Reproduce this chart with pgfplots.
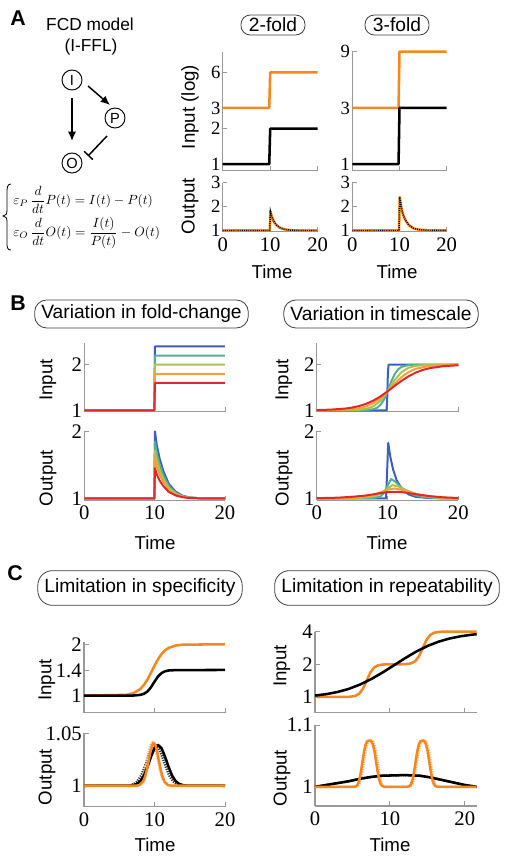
\documentclass[border=0pt]{standalone}
\usepackage{amsmath}
\usepackage{fontspec}
\setmainfont{Liberation Sans}
\newfontfamily\tnr{Liberation Serif}
\usepackage{pgfplots}
\pgfplotsset{compat=1.18}
\usetikzlibrary{arrows.meta}

\definecolor{myor}{RGB}{245,135,30}
\definecolor{myorl}{RGB}{250,180,115}
\definecolor{cb}{RGB}{60,95,190}
\definecolor{ct}{RGB}{80,175,150}
\definecolor{cy}{RGB}{170,195,80}
\definecolor{co}{RGB}{240,160,60}
\definecolor{cr}{RGB}{225,40,40}

\pgfplotsset{
  fc/.style={scale only axis, anchor=south west, xmin=0, xmax=20, clip=false,
    axis x line*=bottom, axis y line*=left,
    axis line style={-,draw=black!40,line width=0.8pt},
    tick style={draw=black!40,line width=0.7pt}, major tick length=3.5pt,
    tick align=inside, xtick={0,10,20}, no markers,
    ticklabel style={font=\tnr\fontsize{15.5}{15.5}\selectfont},
    yticklabel style={inner xsep=1.5pt,inner ysep=0pt},
    xticklabel style={inner ysep=2pt,yshift=-2pt}},
  sm/.style={yticklabel style={font=\tnr\fontsize{14}{14}\selectfont}},
  pos/.style 2 args={at={({#1*0.75pt},{(857-#2)*0.75pt})}},
  noxl/.style={xticklabels={}},
  lo/.style={myor,line width=1.9pt,line join=round},
  lk/.style={black,line width=1.9pt,line join=round},
  ldk/.style={black,line width=1.1pt,dash pattern=on 0.7pt off 0.9pt},
  lb/.style={line width=1.5pt,line join=round},
  dol/.style={myorl,line width=1.8pt,dash pattern=on 0.9pt off 0.9pt},
  dkl/.style={black!80,line width=1.8pt,dash pattern=on 0.9pt off 0.9pt},
}

\begin{document}
\begin{tikzpicture}
\useasboundingbox (0,0) rectangle (378.75pt,642.75pt);

% ---------- A ----------
\begin{axis}[fc, sm, pos={222.7}{170.7}, width=71.25pt, height=89.25pt, noxl,
  ymode=log, ymin=0.88, ymax=9, ytick={1,2,3,6}, yticklabels={1,2,3,6}]
\addplot[lo] coordinates {(0,3) (9.8,3) (10,6) (20,6)};
\addplot[lk] coordinates {(0,1) (9.8,1) (10,2) (20,2)};
\end{axis}
\begin{axis}[fc, sm, pos={222.7}{231.7}, width=71.25pt, height=36.75pt,
  ymin=0.95, ymax=3, ytick={1,2,3}, yticklabels={1,2,3}, xticklabels={0,10,20}]
\addplot[lo] coordinates {(0,1) (9.9,1) (10.05,1.8) (10.3,1.6) (10.7,1.4) (11.2,1.25) (12,1.12) (13,1.05) (14,1.02) (16,1.0) (20,1)};
\addplot[ldk] coordinates {(0,1) (9.9,1) (10.05,1.8) (10.3,1.6) (10.7,1.4) (11.2,1.25) (12,1.12) (13,1.05) (14,1.02) (16,1.0) (20,1)};
\end{axis}
\begin{axis}[fc, sm, pos={352.3}{170.7}, width=70.8pt, height=89.25pt, noxl,
  ymode=log, ymin=0.88, ymax=9, ytick={1,3,9}, yticklabels={1,3,9}]
\addplot[lo] coordinates {(0,3) (9.8,3) (10,9) (20,9)};
\addplot[lk] coordinates {(0,1) (9.8,1) (10,3) (20,3)};
\end{axis}
\begin{axis}[fc, sm, pos={352.3}{231.7}, width=70.8pt, height=36.75pt,
  ymin=0.95, ymax=3, ytick={1,2,3}, yticklabels={1,2,3}, xticklabels={0,10,20}]
\addplot[lo] coordinates {(0,1) (9.9,1) (10.05,2.4) (10.3,2.05) (10.7,1.7) (11.2,1.45) (12,1.22) (13,1.09) (14,1.04) (16,1.01) (20,1)};
\addplot[ldk] coordinates {(0,1) (9.9,1) (10.05,2.4) (10.3,2.05) (10.7,1.7) (11.2,1.45) (12,1.22) (13,1.09) (14,1.04) (16,1.01) (20,1)};
\end{axis}

% ---------- B ----------
\begin{axis}[fc, pos={84.3}{411.7}, width=105.5pt, height=51.3pt, noxl,
  ymin=0.97, ymax=2.47, ytick={1,2}, yticklabels={1,2}]
\addplot[lb,cb] coordinates {(0,1) (9.95,1) (10.05,2.4) (20,2.4)};
\addplot[lb,ct] coordinates {(0,1) (9.95,1) (10.05,2.2) (20,2.2)};
\addplot[lb,cy] coordinates {(0,1) (9.95,1) (10.05,2.0) (20,2.0)};
\addplot[lb,co] coordinates {(0,1) (9.95,1) (10.05,1.8) (20,1.8)};
\addplot[lb,cr] coordinates {(0,1) (9.95,1) (10.05,1.6) (20,1.6)};
\end{axis}
\begin{axis}[fc, pos={84.3}{500.5}, width=105.5pt, height=51.75pt,
  ymin=0.97, ymax=2, ytick={1,2}, yticklabels={1,2}, xticklabels={0,10,20}]
\addplot[lb,cb] coordinates {(0,1) (9.95,1) (10.05,2.0) (10.3,1.8) (10.7,1.6) (11.2,1.42) (12,1.22) (13,1.1) (14,1.04) (15,1.015) (17,1) (20,1)};
\addplot[lb,ct] coordinates {(0,1) (9.95,1) (10.05,1.85) (10.3,1.68) (10.7,1.51) (11.2,1.357) (12,1.187) (13,1.085) (14,1.034) (15,1.013) (17,1) (20,1)};
\addplot[lb,cy] coordinates {(0,1) (9.95,1) (10.05,1.72) (10.3,1.576) (10.7,1.432) (11.2,1.302) (12,1.158) (13,1.072) (14,1.029) (15,1.011) (17,1) (20,1)};
\addplot[lb,co] coordinates {(0,1) (9.95,1) (10.05,1.6) (10.3,1.48) (10.7,1.36) (11.2,1.252) (12,1.132) (13,1.06) (14,1.024) (15,1.009) (17,1) (20,1)};
\addplot[lb,cr] coordinates {(0,1) (9.95,1) (10.05,1.45) (10.3,1.36) (10.7,1.27) (11.2,1.189) (12,1.099) (13,1.045) (14,1.018) (15,1.007) (17,1) (20,1)};
\end{axis}
\begin{axis}[fc, pos={316.7}{411.7}, width=106.2pt, height=51.3pt, noxl,
  ymin=0.97, ymax=2.47, ytick={1,2}, yticklabels={1,2}]
\addplot[lb,cb] coordinates {(0,1) (9.85,1) (9.95,1.2) (10.05,1.8) (10.15,2) (20,2)};
\addplot[lb,ct] coordinates {(0,1) (7,1.0047) (8,1.0241) (8.5,1.054) (9,1.1165) (9.5,1.2337) (10,1.414) (10.5,1.621) (11,1.791) (11.5,1.898) (12,1.953) (13,1.995) (20,2)};
\addplot[lb,cy] coordinates {(0,1) (5,1.0047) (6,1.0125) (7,1.0334) (8,1.086) (9,1.205) (10,1.414) (11,1.66) (12,1.841) (13,1.935) (14,1.975) (15,1.9907) (20,2)};
\addplot[lb,co] coordinates {(0,1.0009) (4,1.0125) (6,1.046) (7,1.086) (8,1.156) (9,1.265) (10,1.414) (11,1.581) (12,1.731) (13,1.841) (14,1.912) (16,1.975) (20,1.999)};
\addplot[lb,cr] coordinates {(0,1.0059) (2,1.0152) (4,1.0383) (5,1.0604) (6,1.094) (7,1.1435) (8,1.213) (9,1.304) (10,1.4142) (11,1.534) (12,1.649) (13,1.749) (14,1.828) (15,1.886) (16,1.926) (18,1.97) (20,1.988)};
\end{axis}
\begin{axis}[fc, pos={316.7}{500.5}, width=106.2pt, height=51.75pt,
  ymin=0.97, ymax=2, ytick={1,2}, yticklabels={1,2}, xticklabels={0,10,20}]
\addplot[lb,cb] coordinates {(0,1) (9.8,1) (10.1,1.83) (10.4,1.62) (10.8,1.43) (11.3,1.27) (12,1.15) (13,1.06) (14,1.025) (16,1.005) (20,1)};
\addplot[lb,ct] coordinates {(0,1) (8,1.005) (9,1.03) (9.5,1.08) (10,1.19) (10.5,1.29) (11,1.26) (11.5,1.21) (12,1.16) (13,1.085) (14,1.045) (15,1.022) (17,1.005) (20,1)};
\addplot[lb,cy] coordinates {(0,1) (6,1.006) (8,1.03) (9,1.07) (10,1.15) (10.7,1.2) (11.5,1.18) (12.5,1.13) (14,1.07) (15,1.04) (17,1.012) (20,1.002)};
\addplot[lb,co] coordinates {(0,1.002) (5,1.01) (7,1.03) (8,1.05) (9,1.09) (10,1.13) (11,1.15) (12,1.13) (13,1.1) (14,1.07) (15,1.045) (17,1.018) (20,1.004)};
\addplot[lb,cr] coordinates {(0,1.005) (3,1.012) (5,1.025) (7,1.045) (8,1.062) (9,1.08) (10,1.095) (11,1.1) (12,1.095) (13,1.08) (14,1.063) (16,1.035) (18,1.016) (20,1.007)};
\end{axis}

% ---------- C ----------
\begin{axis}[fc, pos={84}{712.7}, width=105.75pt, height=53.25pt, noxl,
  ymode=log, ymin=0.795, ymax=2.07, ytick={1,1.4,2}, yticklabels={1,1.4,2}]
\addplot[lo] coordinates {(0,1) (6,1.011) (7,1.033) (8,1.095) (8.5,1.156) (9,1.243) (9.5,1.361) (10,1.498) (10.5,1.634) (11,1.752) (11.5,1.842) (12,1.903) (13,1.966) (14,1.989) (20,2)};
\addplot[lk] coordinates {(0,1) (7,1.0018) (8,1.0107) (8.5,1.0255) (9,1.058) (9.5,1.1197) (10,1.208) (10.5,1.296) (11,1.357) (11.5,1.389) (12,1.404) (13,1.4115) (20,1.4142)};
\end{axis}
\begin{axis}[fc, pos={84}{806.7}, width=105.75pt, height=55pt,
  ymin=0.98, ymax=1.05, ytick={1,1.05}, yticklabels={1,1.05}, xticklabels={0,10,20}]
\addplot[dkl] coordinates {(0,1) (6.1,1.0002) (6.6,1.0006) (7.1,1.0017) (7.6,1.0044) (8.1,1.0097) (8.6,1.0179) (9.1,1.0276) (9.6,1.0358) (10.1,1.039) (10.6,1.0358) (11.1,1.0276) (11.6,1.0179) (12.1,1.0097) (12.6,1.0044) (13.1,1.0017) (13.6,1.0006) (14.1,1.0002) (20,1)};
\addplot[dol] coordinates {(0,1) (7.2,1.0002) (7.7,1.0012) (8.2,1.0055) (8.45,1.0102) (8.7,1.0169) (8.95,1.0249) (9.2,1.0328) (9.45,1.0388) (9.7,1.041) (9.95,1.0388) (10.2,1.0328) (10.45,1.0249) (10.7,1.0169) (10.95,1.0102) (11.2,1.0055) (11.7,1.0012) (12.2,1.0002) (20,1)};
\addplot[lk] coordinates {(0,1) (6.5,1.0002) (7,1.0006) (7.5,1.0017) (8,1.0044) (8.5,1.0097) (9,1.0179) (9.5,1.0276) (10,1.0358) (10.5,1.039) (11,1.0358) (11.5,1.0276) (12,1.0179) (12.5,1.0097) (13,1.0044) (13.5,1.0017) (14,1.0006) (14.5,1.0002) (20,1)};
\addplot[lo] coordinates {(0,1) (7.4,1) (7.9,1.0007) (8.4,1.0041) (8.65,1.0083) (8.9,1.0148) (9.15,1.0231) (9.4,1.0318) (9.65,1.0385) (9.9,1.041) (10.15,1.0385) (10.4,1.0318) (10.65,1.0231) (10.9,1.0148) (11.15,1.0083) (11.4,1.0041) (11.9,1.0007) (12.4,1) (20,1)};
\end{axis}
\begin{axis}[fc, pos={315}{712.7}, width=121.3pt, height=60.75pt, noxl, xmax=21.6,
  ymode=log, ymin=0.715, ymax=4, ytick={1,2,4}, yticklabels={1,2,4}]
\addplot[lo] coordinates {(0,1) (4.4,1) (4.9,1.008) (5.4,1.024) (5.9,1.07) (6.4,1.188) (6.9,1.414) (7.4,1.685) (7.9,1.869) (8.4,1.954) (8.9,1.984) (9.5,2) (11.4,2) (12.4,2.016) (12.9,2.048) (13.4,2.14) (13.9,2.376) (14.4,2.828) (14.9,3.37) (15.4,3.738) (15.9,3.908) (16.4,3.968) (17,4) (21.6,4)};
\addplot[lk] coordinates {(0,1.03) (1.5,1.06) (3,1.11) (4.5,1.185) (6,1.3) (7.5,1.46) (9,1.676) (10.75,2.0) (12,2.272) (13.5,2.617) (15,2.948) (16.5,3.236) (18,3.465) (19.5,3.636) (21,3.757) (21.6,3.795)};
\end{axis}
\begin{axis}[fc, pos={315}{806}, width=121.3pt, height=60.75pt, xmax=21.6,
  ymin=0.969, ymax=1.1, ytick={1,1.1}, yticklabels={1,1.1}, xticklabels={0,10,20}]
\addplot[dkl] coordinates {(0,1) (1.5,1.003) (3,1.006) (4.5,1.009) (6,1.013) (7.5,1.016) (9,1.018) (12,1.019) (14,1.018) (15.5,1.015) (17,1.011) (18.5,1.007) (20,1.003) (21.6,1.0)};
\addplot[dol] coordinates {(0,1) (5.45,1.0001) (5.75,1.0014) (5.95,1.0049) (6.15,1.0127) (6.35,1.0256) (6.55,1.0416) (6.75,1.0569) (6.95,1.0678) (7.15,1.0734) (7.45,1.075) (7.75,1.0734) (7.95,1.0678) (8.15,1.0569) (8.35,1.0416) (8.55,1.0256) (8.75,1.0127) (8.95,1.0049) (9.15,1.0014) (9.45,1.0001) (12.55,1.0001) (12.85,1.0014) (13.05,1.0049) (13.25,1.0127) (13.45,1.0256) (13.65,1.0416) (13.85,1.0569) (14.05,1.0678) (14.25,1.0734) (14.55,1.075) (14.85,1.0734) (15.05,1.0678) (15.25,1.0569) (15.45,1.0416) (15.65,1.0256) (15.85,1.0127) (16.05,1.0049) (16.25,1.0014) (16.55,1.0001) (21.6,1)};
\addplot[lk] coordinates {(0,1) (1.5,1.003) (3,1.006) (4.5,1.009) (6,1.013) (7.5,1.016) (9,1.018) (12,1.019) (14,1.018) (15.5,1.015) (17,1.011) (18.5,1.007) (20,1.003) (21.6,1.0)};
\addplot[lo] coordinates {(0,1) (5.25,1.0001) (5.55,1.0014) (5.75,1.0049) (5.95,1.0127) (6.15,1.0256) (6.35,1.0416) (6.55,1.0569) (6.75,1.0678) (6.95,1.0734) (7.25,1.075) (7.55,1.0734) (7.75,1.0678) (7.95,1.0569) (8.15,1.0416) (8.35,1.0256) (8.55,1.0127) (8.75,1.0049) (8.95,1.0014) (9.25,1.0001) (12.35,1.0001) (12.65,1.0014) (12.85,1.0049) (13.05,1.0127) (13.25,1.0256) (13.45,1.0416) (13.65,1.0569) (13.85,1.0678) (14.05,1.0734) (14.35,1.075) (14.65,1.0734) (14.85,1.0678) (15.05,1.0569) (15.25,1.0416) (15.45,1.0256) (15.65,1.0127) (15.85,1.0049) (16.05,1.0014) (16.35,1.0001) (21.6,1)};
\end{axis}

% ---------- text and diagram ----------
\begin{scope}[x=0.75pt,y=-0.75pt,shift={(0pt,642.75pt)},
  lab/.style={font=\fontsize{14}{14}\selectfont},
  ttl/.style={draw=black!75,line width=0.6pt,rounded corners=7pt,inner xsep=5pt,inner ysep=0pt,font=\fontsize{14.4}{14.4}\selectfont},
  pl/.style={font=\bfseries\fontsize{16}{16}\selectfont}]
\node[pl] at (18,18) {A};
\node[pl] at (18,303) {B};
\node[pl] at (15,573) {C};
\node[lab,font=\fontsize{13}{13}\selectfont] at (90,24) {FCD model};
\node[lab,font=\fontsize{13}{13}\selectfont] at (91,47) {(I-FFL)};
\begin{scope}[every node/.style={draw,circle,minimum size=15pt,inner sep=0pt,line width=0.7pt,font=\fontsize{11}{11}\selectfont}]
\node (nI) at (72,80) {I};
\node (nP) at (115,118) {P};
\node (nO) at (72,163) {O};
\end{scope}
\draw[line width=1.1pt,-{Latex[length=7pt,width=6pt]}] (72,98) -- (72,141);
\draw[line width=1.1pt,-{Latex[length=7pt,width=6pt]}] (88,86) -- (110,105);
\draw[line width=1.1pt,-{Bar[width=9pt]}] (107,136) -- (88,156);
% equations with a drawn brace
\draw[line width=0.6pt] (11,184) .. controls (7,184) and (7,188) .. (7,194) -- (7,210)
  .. controls (7,214) and (6,216) .. (3,216) .. controls (6,216) and (7,218) .. (7,222)
  -- (7,242) .. controls (7,247) and (7,250) .. (11,250);
\node[anchor=west,inner sep=0pt] at (13,200) {\fontsize{9.6}{11}\selectfont$\varepsilon_P\,\dfrac{d}{dt}P(t)=I(t)-P(t)$};
\node[anchor=west,inner sep=0pt] at (13,233) {\fontsize{9.6}{11}\selectfont$\varepsilon_O\,\dfrac{d}{dt}O(t)=\dfrac{I(t)}{P(t)}-O(t)$};
% titles
\node[ttl,minimum height=15pt,minimum width=48pt] at (273,25) {2-fold};
\node[ttl,minimum height=15pt,minimum width=48pt] at (397,25) {3-fold};
\node[ttl,minimum height=21pt,rounded corners=9pt] at (141.5,314) {Variation in fold-change};
\node[ttl,minimum height=21pt,rounded corners=9pt] at (381,314) {Variation in timescale};
\node[ttl,minimum height=26pt,rounded corners=11pt] at (140,588) {Limitation in specificity};
\node[ttl,minimum height=26pt,rounded corners=11pt] at (387,588) {Limitation in repeatability};
% axis labels
\node[lab,rotate=90] at (190,107) {Input (log)};
\node[lab,rotate=90] at (190,206) {Output};
\node[lab,rotate=90] at (48,380) {Input};
\node[lab,rotate=90] at (48,478) {Output};
\node[lab,rotate=90] at (284,380) {Input};
\node[lab,rotate=90] at (284,478) {Output};
\node[lab,rotate=90] at (47,680) {Input};
\node[lab,rotate=90] at (47,777) {Output};
\node[lab,rotate=90] at (282,666) {Input};
\node[lab,rotate=90] at (282,778) {Output};
\node[lab] at (272,272) {Time};
\node[lab] at (397,272) {Time};
\node[lab] at (155,543) {Time};
\node[lab] at (387,543) {Time};
\node[lab] at (155,845) {Time};
\node[lab] at (390,845) {Time};
\end{scope}
\end{tikzpicture}
\end{document}
